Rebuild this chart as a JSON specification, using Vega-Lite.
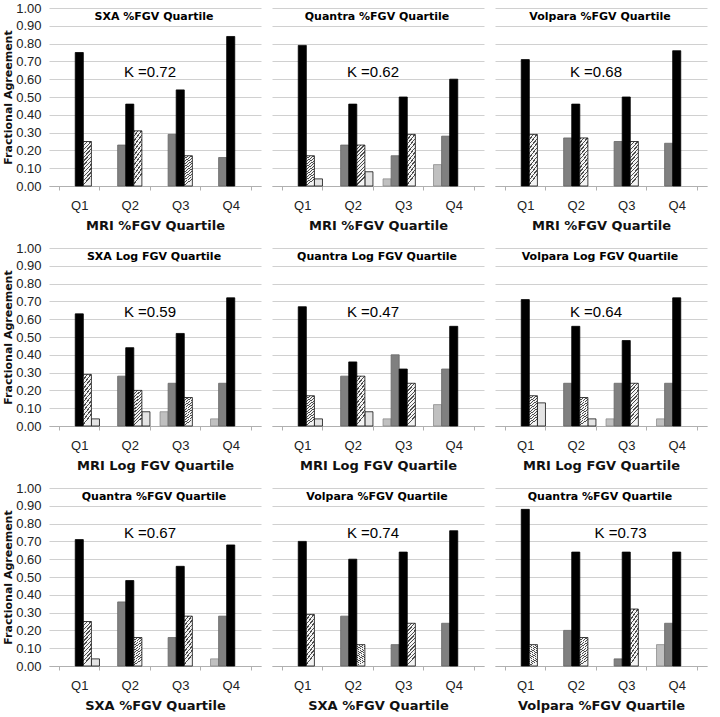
{
"$schema":"https://vega.github.io/schema/vega-lite/v6.json",
"padding":{"left":2,"top":2,"right":2,"bottom":2},
"background":"#ffffff",
"data":{"values":[
{"p":1,"t":"SXA %FGV Quartile","k":"K =0.72"},
{"p":1,"q":"Q1","s":"0","v":0.75},{"p":1,"q":"Q1","s":"+1","v":0.25},
{"p":1,"q":"Q2","s":"-1","v":0.23},{"p":1,"q":"Q2","s":"0","v":0.46},{"p":1,"q":"Q2","s":"+1","v":0.31},
{"p":1,"q":"Q3","s":"-1","v":0.29},{"p":1,"q":"Q3","s":"0","v":0.54},{"p":1,"q":"Q3","s":"+1","v":0.17},
{"p":1,"q":"Q4","s":"-1","v":0.16},{"p":1,"q":"Q4","s":"0","v":0.84},
{"p":2,"t":"Quantra %FGV Quartile","k":"K =0.62"},
{"p":2,"q":"Q1","s":"0","v":0.79},{"p":2,"q":"Q1","s":"+1","v":0.17},{"p":2,"q":"Q1","s":"+2","v":0.04},
{"p":2,"q":"Q2","s":"-1","v":0.23},{"p":2,"q":"Q2","s":"0","v":0.46},{"p":2,"q":"Q2","s":"+1","v":0.23},{"p":2,"q":"Q2","s":"+2","v":0.08},
{"p":2,"q":"Q3","s":"-2","v":0.04},{"p":2,"q":"Q3","s":"-1","v":0.17},{"p":2,"q":"Q3","s":"0","v":0.50},{"p":2,"q":"Q3","s":"+1","v":0.29},
{"p":2,"q":"Q4","s":"-2","v":0.12},{"p":2,"q":"Q4","s":"-1","v":0.28},{"p":2,"q":"Q4","s":"0","v":0.60},
{"p":3,"t":"Volpara %FGV Quartile","k":"K =0.68"},
{"p":3,"q":"Q1","s":"0","v":0.71},{"p":3,"q":"Q1","s":"+1","v":0.29},
{"p":3,"q":"Q2","s":"-1","v":0.27},{"p":3,"q":"Q2","s":"0","v":0.46},{"p":3,"q":"Q2","s":"+1","v":0.27},
{"p":3,"q":"Q3","s":"-1","v":0.25},{"p":3,"q":"Q3","s":"0","v":0.50},{"p":3,"q":"Q3","s":"+1","v":0.25},
{"p":3,"q":"Q4","s":"-1","v":0.24},{"p":3,"q":"Q4","s":"0","v":0.76},
{"p":4,"t":"SXA Log FGV Quartile","k":"K =0.59"},
{"p":4,"q":"Q1","s":"0","v":0.63},{"p":4,"q":"Q1","s":"+1","v":0.29},{"p":4,"q":"Q1","s":"+2","v":0.04},
{"p":4,"q":"Q2","s":"-1","v":0.28},{"p":4,"q":"Q2","s":"0","v":0.44},{"p":4,"q":"Q2","s":"+1","v":0.20},{"p":4,"q":"Q2","s":"+2","v":0.08},
{"p":4,"q":"Q3","s":"-2","v":0.08},{"p":4,"q":"Q3","s":"-1","v":0.24},{"p":4,"q":"Q3","s":"0","v":0.52},{"p":4,"q":"Q3","s":"+1","v":0.16},
{"p":4,"q":"Q4","s":"-2","v":0.04},{"p":4,"q":"Q4","s":"-1","v":0.24},{"p":4,"q":"Q4","s":"0","v":0.72},
{"p":5,"t":"Quantra Log FGV Quartile","k":"K =0.47"},
{"p":5,"q":"Q1","s":"0","v":0.67},{"p":5,"q":"Q1","s":"+1","v":0.17},{"p":5,"q":"Q1","s":"+2","v":0.04},
{"p":5,"q":"Q2","s":"-1","v":0.28},{"p":5,"q":"Q2","s":"0","v":0.36},{"p":5,"q":"Q2","s":"+1","v":0.28},{"p":5,"q":"Q2","s":"+2","v":0.08},
{"p":5,"q":"Q3","s":"-2","v":0.04},{"p":5,"q":"Q3","s":"-1","v":0.40},{"p":5,"q":"Q3","s":"0","v":0.32},{"p":5,"q":"Q3","s":"+1","v":0.24},
{"p":5,"q":"Q4","s":"-2","v":0.12},{"p":5,"q":"Q4","s":"-1","v":0.32},{"p":5,"q":"Q4","s":"0","v":0.56},
{"p":6,"t":"Volpara Log FGV Quartile","k":"K =0.64"},
{"p":6,"q":"Q1","s":"0","v":0.71},{"p":6,"q":"Q1","s":"+1","v":0.17},{"p":6,"q":"Q1","s":"+2","v":0.13},
{"p":6,"q":"Q2","s":"-1","v":0.24},{"p":6,"q":"Q2","s":"0","v":0.56},{"p":6,"q":"Q2","s":"+1","v":0.16},{"p":6,"q":"Q2","s":"+2","v":0.04},
{"p":6,"q":"Q3","s":"-2","v":0.04},{"p":6,"q":"Q3","s":"-1","v":0.24},{"p":6,"q":"Q3","s":"0","v":0.48},{"p":6,"q":"Q3","s":"+1","v":0.24},
{"p":6,"q":"Q4","s":"-2","v":0.04},{"p":6,"q":"Q4","s":"-1","v":0.24},{"p":6,"q":"Q4","s":"0","v":0.72},
{"p":7,"t":"Quantra %FGV Quartile","k":"K =0.67"},
{"p":7,"q":"Q1","s":"0","v":0.71},{"p":7,"q":"Q1","s":"+1","v":0.25},{"p":7,"q":"Q1","s":"+2","v":0.04},
{"p":7,"q":"Q2","s":"-1","v":0.36},{"p":7,"q":"Q2","s":"0","v":0.48},{"p":7,"q":"Q2","s":"+1","v":0.16},
{"p":7,"q":"Q3","s":"-1","v":0.16},{"p":7,"q":"Q3","s":"0","v":0.56},{"p":7,"q":"Q3","s":"+1","v":0.28},
{"p":7,"q":"Q4","s":"-2","v":0.04},{"p":7,"q":"Q4","s":"-1","v":0.28},{"p":7,"q":"Q4","s":"0","v":0.68},
{"p":8,"t":"Volpara %FGV Quartile","k":"K =0.74"},
{"p":8,"q":"Q1","s":"0","v":0.70},{"p":8,"q":"Q1","s":"+1","v":0.29},
{"p":8,"q":"Q2","s":"-1","v":0.28},{"p":8,"q":"Q2","s":"0","v":0.60},{"p":8,"q":"Q2","s":"+1","v":0.12},
{"p":8,"q":"Q3","s":"-1","v":0.12},{"p":8,"q":"Q3","s":"0","v":0.64},{"p":8,"q":"Q3","s":"+1","v":0.24},
{"p":8,"q":"Q4","s":"-1","v":0.24},{"p":8,"q":"Q4","s":"0","v":0.76},
{"p":9,"t":"Quantra %FGV Quartile","k":"K =0.73"},
{"p":9,"q":"Q1","s":"0","v":0.88},{"p":9,"q":"Q1","s":"+1","v":0.12},
{"p":9,"q":"Q2","s":"-1","v":0.20},{"p":9,"q":"Q2","s":"0","v":0.64},{"p":9,"q":"Q2","s":"+1","v":0.16},
{"p":9,"q":"Q3","s":"-1","v":0.04},{"p":9,"q":"Q3","s":"0","v":0.64},{"p":9,"q":"Q3","s":"+1","v":0.32},
{"p":9,"q":"Q4","s":"-2","v":0.12},{"p":9,"q":"Q4","s":"-1","v":0.24},{"p":9,"q":"Q4","s":"0","v":0.64}
]},
"vconcat":[
{"hconcat":[
{"width":212,"height":178,"transform":[{"filter":"datum.p==1"}],"layer":[
{"transform":[{"filter":"isValid(datum.v)&&datum.s!='+1'"}],"mark":{"type":"bar","strokeWidth":0.8},"encoding":{"x":{"field":"q","type":"nominal","scale":{"domain":["Q1","Q2","Q3","Q4"]},"axis":{"title":"MRI %FGV Quartile"}},"xOffset":{"field":"s","type":"nominal","scale":{"domain":["-2","-1","0","+1","+2"]}},"y":{"field":"v","type":"quantitative","scale":{"domain":[0,1],"nice":false},"axis":{"title":"Fractional Agreement","format":".2f"}},"fill":{"field":"s","type":"nominal","scale":{"domain":["-2","-1","0","+2"],"range":["#c0c0c0","#808080","#000000","#e4e4e4"]},"legend":null},"stroke":{"field":"s","type":"nominal","scale":{"domain":["-2","-1","0","+2"],"range":["#8c8c8c","#666666","#000000","#111111"]},"legend":null}}},
{"transform":[{"filter":"datum.s=='+1'"}],"mark":{"type":"bar","stroke":"#111111","strokeWidth":0.8,"fill":{"gradient":"linear","x1":0,"y1":0,"x2":0.2,"y2":1,"stops":[{"offset":0,"color":"#4d4d4d"},{"offset":0.03,"color":"#4d4d4d"},{"offset":0.03,"color":"#f4f4f4"},{"offset":0.0833,"color":"#f4f4f4"},{"offset":0.0833,"color":"#4d4d4d"},{"offset":0.1133,"color":"#4d4d4d"},{"offset":0.1133,"color":"#f4f4f4"},{"offset":0.1667,"color":"#f4f4f4"},{"offset":0.1667,"color":"#4d4d4d"},{"offset":0.1967,"color":"#4d4d4d"},{"offset":0.1967,"color":"#f4f4f4"},{"offset":0.25,"color":"#f4f4f4"},{"offset":0.25,"color":"#4d4d4d"},{"offset":0.28,"color":"#4d4d4d"},{"offset":0.28,"color":"#f4f4f4"},{"offset":0.3333,"color":"#f4f4f4"},{"offset":0.3333,"color":"#4d4d4d"},{"offset":0.3633,"color":"#4d4d4d"},{"offset":0.3633,"color":"#f4f4f4"},{"offset":0.4167,"color":"#f4f4f4"},{"offset":0.4167,"color":"#4d4d4d"},{"offset":0.4467,"color":"#4d4d4d"},{"offset":0.4467,"color":"#f4f4f4"},{"offset":0.5,"color":"#f4f4f4"},{"offset":0.5,"color":"#4d4d4d"},{"offset":0.53,"color":"#4d4d4d"},{"offset":0.53,"color":"#f4f4f4"},{"offset":0.5833,"color":"#f4f4f4"},{"offset":0.5833,"color":"#4d4d4d"},{"offset":0.6133,"color":"#4d4d4d"},{"offset":0.6133,"color":"#f4f4f4"},{"offset":0.6667,"color":"#f4f4f4"},{"offset":0.6667,"color":"#4d4d4d"},{"offset":0.6967,"color":"#4d4d4d"},{"offset":0.6967,"color":"#f4f4f4"},{"offset":0.75,"color":"#f4f4f4"},{"offset":0.75,"color":"#4d4d4d"},{"offset":0.78,"color":"#4d4d4d"},{"offset":0.78,"color":"#f4f4f4"},{"offset":0.8333,"color":"#f4f4f4"},{"offset":0.8333,"color":"#4d4d4d"},{"offset":0.8633,"color":"#4d4d4d"},{"offset":0.8633,"color":"#f4f4f4"},{"offset":0.9167,"color":"#f4f4f4"},{"offset":0.9167,"color":"#4d4d4d"},{"offset":0.9467,"color":"#4d4d4d"},{"offset":0.9467,"color":"#f4f4f4"},{"offset":1,"color":"#f4f4f4"}]}},"encoding":{"x":{"field":"q","type":"nominal"},"xOffset":{"field":"s","type":"nominal"},"y":{"field":"v","type":"quantitative"}}},
{"transform":[{"filter":"isValid(datum.t)"}],"mark":{"type":"text","style":"ptitle"},"encoding":{"x":{"datum":"Q2","bandPosition":1.1},"y":{"datum":0.95},"text":{"field":"t"}}},
{"transform":[{"filter":"isValid(datum.k)"}],"mark":{"type":"text","style":"kappa"},"encoding":{"x":{"datum":"Q2","bandPosition":1},"y":{"datum":0.64},"text":{"field":"k"}}}
]},
{"width":212,"height":178,"transform":[{"filter":"datum.p==2"}],"layer":[
{"transform":[{"filter":"isValid(datum.v)&&datum.s!='+1'"}],"mark":{"type":"bar","strokeWidth":0.8},"encoding":{"x":{"field":"q","type":"nominal","scale":{"domain":["Q1","Q2","Q3","Q4"]},"axis":{"title":"MRI %FGV Quartile"}},"xOffset":{"field":"s","type":"nominal","scale":{"domain":["-2","-1","0","+1","+2"]}},"y":{"field":"v","type":"quantitative","scale":{"domain":[0,1],"nice":false},"axis":{"title":null,"labels":false}},"fill":{"field":"s","type":"nominal","scale":{"domain":["-2","-1","0","+2"],"range":["#c0c0c0","#808080","#000000","#e4e4e4"]},"legend":null},"stroke":{"field":"s","type":"nominal","scale":{"domain":["-2","-1","0","+2"],"range":["#8c8c8c","#666666","#000000","#111111"]},"legend":null}}},
{"transform":[{"filter":"datum.s=='+1'"}],"mark":{"type":"bar","stroke":"#111111","strokeWidth":0.8,"fill":{"gradient":"linear","x1":0,"y1":0,"x2":0.2,"y2":1,"stops":[{"offset":0,"color":"#4d4d4d"},{"offset":0.03,"color":"#4d4d4d"},{"offset":0.03,"color":"#f4f4f4"},{"offset":0.0833,"color":"#f4f4f4"},{"offset":0.0833,"color":"#4d4d4d"},{"offset":0.1133,"color":"#4d4d4d"},{"offset":0.1133,"color":"#f4f4f4"},{"offset":0.1667,"color":"#f4f4f4"},{"offset":0.1667,"color":"#4d4d4d"},{"offset":0.1967,"color":"#4d4d4d"},{"offset":0.1967,"color":"#f4f4f4"},{"offset":0.25,"color":"#f4f4f4"},{"offset":0.25,"color":"#4d4d4d"},{"offset":0.28,"color":"#4d4d4d"},{"offset":0.28,"color":"#f4f4f4"},{"offset":0.3333,"color":"#f4f4f4"},{"offset":0.3333,"color":"#4d4d4d"},{"offset":0.3633,"color":"#4d4d4d"},{"offset":0.3633,"color":"#f4f4f4"},{"offset":0.4167,"color":"#f4f4f4"},{"offset":0.4167,"color":"#4d4d4d"},{"offset":0.4467,"color":"#4d4d4d"},{"offset":0.4467,"color":"#f4f4f4"},{"offset":0.5,"color":"#f4f4f4"},{"offset":0.5,"color":"#4d4d4d"},{"offset":0.53,"color":"#4d4d4d"},{"offset":0.53,"color":"#f4f4f4"},{"offset":0.5833,"color":"#f4f4f4"},{"offset":0.5833,"color":"#4d4d4d"},{"offset":0.6133,"color":"#4d4d4d"},{"offset":0.6133,"color":"#f4f4f4"},{"offset":0.6667,"color":"#f4f4f4"},{"offset":0.6667,"color":"#4d4d4d"},{"offset":0.6967,"color":"#4d4d4d"},{"offset":0.6967,"color":"#f4f4f4"},{"offset":0.75,"color":"#f4f4f4"},{"offset":0.75,"color":"#4d4d4d"},{"offset":0.78,"color":"#4d4d4d"},{"offset":0.78,"color":"#f4f4f4"},{"offset":0.8333,"color":"#f4f4f4"},{"offset":0.8333,"color":"#4d4d4d"},{"offset":0.8633,"color":"#4d4d4d"},{"offset":0.8633,"color":"#f4f4f4"},{"offset":0.9167,"color":"#f4f4f4"},{"offset":0.9167,"color":"#4d4d4d"},{"offset":0.9467,"color":"#4d4d4d"},{"offset":0.9467,"color":"#f4f4f4"},{"offset":1,"color":"#f4f4f4"}]}},"encoding":{"x":{"field":"q","type":"nominal"},"xOffset":{"field":"s","type":"nominal"},"y":{"field":"v","type":"quantitative"}}},
{"transform":[{"filter":"isValid(datum.t)"}],"mark":{"type":"text","style":"ptitle"},"encoding":{"x":{"datum":"Q2","bandPosition":1.1},"y":{"datum":0.95},"text":{"field":"t"}}},
{"transform":[{"filter":"isValid(datum.k)"}],"mark":{"type":"text","style":"kappa"},"encoding":{"x":{"datum":"Q2","bandPosition":1},"y":{"datum":0.64},"text":{"field":"k"}}}
]},
{"width":212,"height":178,"transform":[{"filter":"datum.p==3"}],"layer":[
{"transform":[{"filter":"isValid(datum.v)&&datum.s!='+1'"}],"mark":{"type":"bar","strokeWidth":0.8},"encoding":{"x":{"field":"q","type":"nominal","scale":{"domain":["Q1","Q2","Q3","Q4"]},"axis":{"title":"MRI %FGV Quartile"}},"xOffset":{"field":"s","type":"nominal","scale":{"domain":["-2","-1","0","+1","+2"]}},"y":{"field":"v","type":"quantitative","scale":{"domain":[0,1],"nice":false},"axis":{"title":null,"labels":false}},"fill":{"field":"s","type":"nominal","scale":{"domain":["-2","-1","0","+2"],"range":["#c0c0c0","#808080","#000000","#e4e4e4"]},"legend":null},"stroke":{"field":"s","type":"nominal","scale":{"domain":["-2","-1","0","+2"],"range":["#8c8c8c","#666666","#000000","#111111"]},"legend":null}}},
{"transform":[{"filter":"datum.s=='+1'"}],"mark":{"type":"bar","stroke":"#111111","strokeWidth":0.8,"fill":{"gradient":"linear","x1":0,"y1":0,"x2":0.2,"y2":1,"stops":[{"offset":0,"color":"#4d4d4d"},{"offset":0.03,"color":"#4d4d4d"},{"offset":0.03,"color":"#f4f4f4"},{"offset":0.0833,"color":"#f4f4f4"},{"offset":0.0833,"color":"#4d4d4d"},{"offset":0.1133,"color":"#4d4d4d"},{"offset":0.1133,"color":"#f4f4f4"},{"offset":0.1667,"color":"#f4f4f4"},{"offset":0.1667,"color":"#4d4d4d"},{"offset":0.1967,"color":"#4d4d4d"},{"offset":0.1967,"color":"#f4f4f4"},{"offset":0.25,"color":"#f4f4f4"},{"offset":0.25,"color":"#4d4d4d"},{"offset":0.28,"color":"#4d4d4d"},{"offset":0.28,"color":"#f4f4f4"},{"offset":0.3333,"color":"#f4f4f4"},{"offset":0.3333,"color":"#4d4d4d"},{"offset":0.3633,"color":"#4d4d4d"},{"offset":0.3633,"color":"#f4f4f4"},{"offset":0.4167,"color":"#f4f4f4"},{"offset":0.4167,"color":"#4d4d4d"},{"offset":0.4467,"color":"#4d4d4d"},{"offset":0.4467,"color":"#f4f4f4"},{"offset":0.5,"color":"#f4f4f4"},{"offset":0.5,"color":"#4d4d4d"},{"offset":0.53,"color":"#4d4d4d"},{"offset":0.53,"color":"#f4f4f4"},{"offset":0.5833,"color":"#f4f4f4"},{"offset":0.5833,"color":"#4d4d4d"},{"offset":0.6133,"color":"#4d4d4d"},{"offset":0.6133,"color":"#f4f4f4"},{"offset":0.6667,"color":"#f4f4f4"},{"offset":0.6667,"color":"#4d4d4d"},{"offset":0.6967,"color":"#4d4d4d"},{"offset":0.6967,"color":"#f4f4f4"},{"offset":0.75,"color":"#f4f4f4"},{"offset":0.75,"color":"#4d4d4d"},{"offset":0.78,"color":"#4d4d4d"},{"offset":0.78,"color":"#f4f4f4"},{"offset":0.8333,"color":"#f4f4f4"},{"offset":0.8333,"color":"#4d4d4d"},{"offset":0.8633,"color":"#4d4d4d"},{"offset":0.8633,"color":"#f4f4f4"},{"offset":0.9167,"color":"#f4f4f4"},{"offset":0.9167,"color":"#4d4d4d"},{"offset":0.9467,"color":"#4d4d4d"},{"offset":0.9467,"color":"#f4f4f4"},{"offset":1,"color":"#f4f4f4"}]}},"encoding":{"x":{"field":"q","type":"nominal"},"xOffset":{"field":"s","type":"nominal"},"y":{"field":"v","type":"quantitative"}}},
{"transform":[{"filter":"isValid(datum.t)"}],"mark":{"type":"text","style":"ptitle"},"encoding":{"x":{"datum":"Q2","bandPosition":1.1},"y":{"datum":0.95},"text":{"field":"t"}}},
{"transform":[{"filter":"isValid(datum.k)"}],"mark":{"type":"text","style":"kappa"},"encoding":{"x":{"datum":"Q2","bandPosition":1},"y":{"datum":0.64},"text":{"field":"k"}}}
]}
],"spacing":11},
{"hconcat":[
{"width":212,"height":178,"transform":[{"filter":"datum.p==4"}],"layer":[
{"transform":[{"filter":"isValid(datum.v)&&datum.s!='+1'"}],"mark":{"type":"bar","strokeWidth":0.8},"encoding":{"x":{"field":"q","type":"nominal","scale":{"domain":["Q1","Q2","Q3","Q4"]},"axis":{"title":"MRI Log FGV Quartile"}},"xOffset":{"field":"s","type":"nominal","scale":{"domain":["-2","-1","0","+1","+2"]}},"y":{"field":"v","type":"quantitative","scale":{"domain":[0,1],"nice":false},"axis":{"title":"Fractional Agreement","format":".2f"}},"fill":{"field":"s","type":"nominal","scale":{"domain":["-2","-1","0","+2"],"range":["#c0c0c0","#808080","#000000","#e4e4e4"]},"legend":null},"stroke":{"field":"s","type":"nominal","scale":{"domain":["-2","-1","0","+2"],"range":["#8c8c8c","#666666","#000000","#111111"]},"legend":null}}},
{"transform":[{"filter":"datum.s=='+1'"}],"mark":{"type":"bar","stroke":"#111111","strokeWidth":0.8,"fill":{"gradient":"linear","x1":0,"y1":0,"x2":0.2,"y2":1,"stops":[{"offset":0,"color":"#4d4d4d"},{"offset":0.03,"color":"#4d4d4d"},{"offset":0.03,"color":"#f4f4f4"},{"offset":0.0833,"color":"#f4f4f4"},{"offset":0.0833,"color":"#4d4d4d"},{"offset":0.1133,"color":"#4d4d4d"},{"offset":0.1133,"color":"#f4f4f4"},{"offset":0.1667,"color":"#f4f4f4"},{"offset":0.1667,"color":"#4d4d4d"},{"offset":0.1967,"color":"#4d4d4d"},{"offset":0.1967,"color":"#f4f4f4"},{"offset":0.25,"color":"#f4f4f4"},{"offset":0.25,"color":"#4d4d4d"},{"offset":0.28,"color":"#4d4d4d"},{"offset":0.28,"color":"#f4f4f4"},{"offset":0.3333,"color":"#f4f4f4"},{"offset":0.3333,"color":"#4d4d4d"},{"offset":0.3633,"color":"#4d4d4d"},{"offset":0.3633,"color":"#f4f4f4"},{"offset":0.4167,"color":"#f4f4f4"},{"offset":0.4167,"color":"#4d4d4d"},{"offset":0.4467,"color":"#4d4d4d"},{"offset":0.4467,"color":"#f4f4f4"},{"offset":0.5,"color":"#f4f4f4"},{"offset":0.5,"color":"#4d4d4d"},{"offset":0.53,"color":"#4d4d4d"},{"offset":0.53,"color":"#f4f4f4"},{"offset":0.5833,"color":"#f4f4f4"},{"offset":0.5833,"color":"#4d4d4d"},{"offset":0.6133,"color":"#4d4d4d"},{"offset":0.6133,"color":"#f4f4f4"},{"offset":0.6667,"color":"#f4f4f4"},{"offset":0.6667,"color":"#4d4d4d"},{"offset":0.6967,"color":"#4d4d4d"},{"offset":0.6967,"color":"#f4f4f4"},{"offset":0.75,"color":"#f4f4f4"},{"offset":0.75,"color":"#4d4d4d"},{"offset":0.78,"color":"#4d4d4d"},{"offset":0.78,"color":"#f4f4f4"},{"offset":0.8333,"color":"#f4f4f4"},{"offset":0.8333,"color":"#4d4d4d"},{"offset":0.8633,"color":"#4d4d4d"},{"offset":0.8633,"color":"#f4f4f4"},{"offset":0.9167,"color":"#f4f4f4"},{"offset":0.9167,"color":"#4d4d4d"},{"offset":0.9467,"color":"#4d4d4d"},{"offset":0.9467,"color":"#f4f4f4"},{"offset":1,"color":"#f4f4f4"}]}},"encoding":{"x":{"field":"q","type":"nominal"},"xOffset":{"field":"s","type":"nominal"},"y":{"field":"v","type":"quantitative"}}},
{"transform":[{"filter":"isValid(datum.t)"}],"mark":{"type":"text","style":"ptitle"},"encoding":{"x":{"datum":"Q2","bandPosition":1.1},"y":{"datum":0.95},"text":{"field":"t"}}},
{"transform":[{"filter":"isValid(datum.k)"}],"mark":{"type":"text","style":"kappa"},"encoding":{"x":{"datum":"Q2","bandPosition":1},"y":{"datum":0.64},"text":{"field":"k"}}}
]},
{"width":212,"height":178,"transform":[{"filter":"datum.p==5"}],"layer":[
{"transform":[{"filter":"isValid(datum.v)&&datum.s!='+1'"}],"mark":{"type":"bar","strokeWidth":0.8},"encoding":{"x":{"field":"q","type":"nominal","scale":{"domain":["Q1","Q2","Q3","Q4"]},"axis":{"title":"MRI Log FGV Quartile"}},"xOffset":{"field":"s","type":"nominal","scale":{"domain":["-2","-1","0","+1","+2"]}},"y":{"field":"v","type":"quantitative","scale":{"domain":[0,1],"nice":false},"axis":{"title":null,"labels":false}},"fill":{"field":"s","type":"nominal","scale":{"domain":["-2","-1","0","+2"],"range":["#c0c0c0","#808080","#000000","#e4e4e4"]},"legend":null},"stroke":{"field":"s","type":"nominal","scale":{"domain":["-2","-1","0","+2"],"range":["#8c8c8c","#666666","#000000","#111111"]},"legend":null}}},
{"transform":[{"filter":"datum.s=='+1'"}],"mark":{"type":"bar","stroke":"#111111","strokeWidth":0.8,"fill":{"gradient":"linear","x1":0,"y1":0,"x2":0.2,"y2":1,"stops":[{"offset":0,"color":"#4d4d4d"},{"offset":0.03,"color":"#4d4d4d"},{"offset":0.03,"color":"#f4f4f4"},{"offset":0.0833,"color":"#f4f4f4"},{"offset":0.0833,"color":"#4d4d4d"},{"offset":0.1133,"color":"#4d4d4d"},{"offset":0.1133,"color":"#f4f4f4"},{"offset":0.1667,"color":"#f4f4f4"},{"offset":0.1667,"color":"#4d4d4d"},{"offset":0.1967,"color":"#4d4d4d"},{"offset":0.1967,"color":"#f4f4f4"},{"offset":0.25,"color":"#f4f4f4"},{"offset":0.25,"color":"#4d4d4d"},{"offset":0.28,"color":"#4d4d4d"},{"offset":0.28,"color":"#f4f4f4"},{"offset":0.3333,"color":"#f4f4f4"},{"offset":0.3333,"color":"#4d4d4d"},{"offset":0.3633,"color":"#4d4d4d"},{"offset":0.3633,"color":"#f4f4f4"},{"offset":0.4167,"color":"#f4f4f4"},{"offset":0.4167,"color":"#4d4d4d"},{"offset":0.4467,"color":"#4d4d4d"},{"offset":0.4467,"color":"#f4f4f4"},{"offset":0.5,"color":"#f4f4f4"},{"offset":0.5,"color":"#4d4d4d"},{"offset":0.53,"color":"#4d4d4d"},{"offset":0.53,"color":"#f4f4f4"},{"offset":0.5833,"color":"#f4f4f4"},{"offset":0.5833,"color":"#4d4d4d"},{"offset":0.6133,"color":"#4d4d4d"},{"offset":0.6133,"color":"#f4f4f4"},{"offset":0.6667,"color":"#f4f4f4"},{"offset":0.6667,"color":"#4d4d4d"},{"offset":0.6967,"color":"#4d4d4d"},{"offset":0.6967,"color":"#f4f4f4"},{"offset":0.75,"color":"#f4f4f4"},{"offset":0.75,"color":"#4d4d4d"},{"offset":0.78,"color":"#4d4d4d"},{"offset":0.78,"color":"#f4f4f4"},{"offset":0.8333,"color":"#f4f4f4"},{"offset":0.8333,"color":"#4d4d4d"},{"offset":0.8633,"color":"#4d4d4d"},{"offset":0.8633,"color":"#f4f4f4"},{"offset":0.9167,"color":"#f4f4f4"},{"offset":0.9167,"color":"#4d4d4d"},{"offset":0.9467,"color":"#4d4d4d"},{"offset":0.9467,"color":"#f4f4f4"},{"offset":1,"color":"#f4f4f4"}]}},"encoding":{"x":{"field":"q","type":"nominal"},"xOffset":{"field":"s","type":"nominal"},"y":{"field":"v","type":"quantitative"}}},
{"transform":[{"filter":"isValid(datum.t)"}],"mark":{"type":"text","style":"ptitle"},"encoding":{"x":{"datum":"Q2","bandPosition":1.1},"y":{"datum":0.95},"text":{"field":"t"}}},
{"transform":[{"filter":"isValid(datum.k)"}],"mark":{"type":"text","style":"kappa"},"encoding":{"x":{"datum":"Q2","bandPosition":1},"y":{"datum":0.64},"text":{"field":"k"}}}
]},
{"width":212,"height":178,"transform":[{"filter":"datum.p==6"}],"layer":[
{"transform":[{"filter":"isValid(datum.v)&&datum.s!='+1'"}],"mark":{"type":"bar","strokeWidth":0.8},"encoding":{"x":{"field":"q","type":"nominal","scale":{"domain":["Q1","Q2","Q3","Q4"]},"axis":{"title":"MRI Log FGV Quartile"}},"xOffset":{"field":"s","type":"nominal","scale":{"domain":["-2","-1","0","+1","+2"]}},"y":{"field":"v","type":"quantitative","scale":{"domain":[0,1],"nice":false},"axis":{"title":null,"labels":false}},"fill":{"field":"s","type":"nominal","scale":{"domain":["-2","-1","0","+2"],"range":["#c0c0c0","#808080","#000000","#e4e4e4"]},"legend":null},"stroke":{"field":"s","type":"nominal","scale":{"domain":["-2","-1","0","+2"],"range":["#8c8c8c","#666666","#000000","#111111"]},"legend":null}}},
{"transform":[{"filter":"datum.s=='+1'"}],"mark":{"type":"bar","stroke":"#111111","strokeWidth":0.8,"fill":{"gradient":"linear","x1":0,"y1":0,"x2":0.2,"y2":1,"stops":[{"offset":0,"color":"#4d4d4d"},{"offset":0.03,"color":"#4d4d4d"},{"offset":0.03,"color":"#f4f4f4"},{"offset":0.0833,"color":"#f4f4f4"},{"offset":0.0833,"color":"#4d4d4d"},{"offset":0.1133,"color":"#4d4d4d"},{"offset":0.1133,"color":"#f4f4f4"},{"offset":0.1667,"color":"#f4f4f4"},{"offset":0.1667,"color":"#4d4d4d"},{"offset":0.1967,"color":"#4d4d4d"},{"offset":0.1967,"color":"#f4f4f4"},{"offset":0.25,"color":"#f4f4f4"},{"offset":0.25,"color":"#4d4d4d"},{"offset":0.28,"color":"#4d4d4d"},{"offset":0.28,"color":"#f4f4f4"},{"offset":0.3333,"color":"#f4f4f4"},{"offset":0.3333,"color":"#4d4d4d"},{"offset":0.3633,"color":"#4d4d4d"},{"offset":0.3633,"color":"#f4f4f4"},{"offset":0.4167,"color":"#f4f4f4"},{"offset":0.4167,"color":"#4d4d4d"},{"offset":0.4467,"color":"#4d4d4d"},{"offset":0.4467,"color":"#f4f4f4"},{"offset":0.5,"color":"#f4f4f4"},{"offset":0.5,"color":"#4d4d4d"},{"offset":0.53,"color":"#4d4d4d"},{"offset":0.53,"color":"#f4f4f4"},{"offset":0.5833,"color":"#f4f4f4"},{"offset":0.5833,"color":"#4d4d4d"},{"offset":0.6133,"color":"#4d4d4d"},{"offset":0.6133,"color":"#f4f4f4"},{"offset":0.6667,"color":"#f4f4f4"},{"offset":0.6667,"color":"#4d4d4d"},{"offset":0.6967,"color":"#4d4d4d"},{"offset":0.6967,"color":"#f4f4f4"},{"offset":0.75,"color":"#f4f4f4"},{"offset":0.75,"color":"#4d4d4d"},{"offset":0.78,"color":"#4d4d4d"},{"offset":0.78,"color":"#f4f4f4"},{"offset":0.8333,"color":"#f4f4f4"},{"offset":0.8333,"color":"#4d4d4d"},{"offset":0.8633,"color":"#4d4d4d"},{"offset":0.8633,"color":"#f4f4f4"},{"offset":0.9167,"color":"#f4f4f4"},{"offset":0.9167,"color":"#4d4d4d"},{"offset":0.9467,"color":"#4d4d4d"},{"offset":0.9467,"color":"#f4f4f4"},{"offset":1,"color":"#f4f4f4"}]}},"encoding":{"x":{"field":"q","type":"nominal"},"xOffset":{"field":"s","type":"nominal"},"y":{"field":"v","type":"quantitative"}}},
{"transform":[{"filter":"isValid(datum.t)"}],"mark":{"type":"text","style":"ptitle"},"encoding":{"x":{"datum":"Q2","bandPosition":1.1},"y":{"datum":0.95},"text":{"field":"t"}}},
{"transform":[{"filter":"isValid(datum.k)"}],"mark":{"type":"text","style":"kappa"},"encoding":{"x":{"datum":"Q2","bandPosition":1},"y":{"datum":0.64},"text":{"field":"k"}}}
]}
],"spacing":11},
{"hconcat":[
{"width":212,"height":178,"transform":[{"filter":"datum.p==7"}],"layer":[
{"transform":[{"filter":"isValid(datum.v)&&datum.s!='+1'"}],"mark":{"type":"bar","strokeWidth":0.8},"encoding":{"x":{"field":"q","type":"nominal","scale":{"domain":["Q1","Q2","Q3","Q4"]},"axis":{"title":"SXA %FGV Quartile"}},"xOffset":{"field":"s","type":"nominal","scale":{"domain":["-2","-1","0","+1","+2"]}},"y":{"field":"v","type":"quantitative","scale":{"domain":[0,1],"nice":false},"axis":{"title":"Fractional Agreement","format":".2f"}},"fill":{"field":"s","type":"nominal","scale":{"domain":["-2","-1","0","+2"],"range":["#c0c0c0","#808080","#000000","#e4e4e4"]},"legend":null},"stroke":{"field":"s","type":"nominal","scale":{"domain":["-2","-1","0","+2"],"range":["#8c8c8c","#666666","#000000","#111111"]},"legend":null}}},
{"transform":[{"filter":"datum.s=='+1'"}],"mark":{"type":"bar","stroke":"#111111","strokeWidth":0.8,"fill":{"gradient":"linear","x1":0,"y1":0,"x2":0.2,"y2":1,"stops":[{"offset":0,"color":"#4d4d4d"},{"offset":0.03,"color":"#4d4d4d"},{"offset":0.03,"color":"#f4f4f4"},{"offset":0.0833,"color":"#f4f4f4"},{"offset":0.0833,"color":"#4d4d4d"},{"offset":0.1133,"color":"#4d4d4d"},{"offset":0.1133,"color":"#f4f4f4"},{"offset":0.1667,"color":"#f4f4f4"},{"offset":0.1667,"color":"#4d4d4d"},{"offset":0.1967,"color":"#4d4d4d"},{"offset":0.1967,"color":"#f4f4f4"},{"offset":0.25,"color":"#f4f4f4"},{"offset":0.25,"color":"#4d4d4d"},{"offset":0.28,"color":"#4d4d4d"},{"offset":0.28,"color":"#f4f4f4"},{"offset":0.3333,"color":"#f4f4f4"},{"offset":0.3333,"color":"#4d4d4d"},{"offset":0.3633,"color":"#4d4d4d"},{"offset":0.3633,"color":"#f4f4f4"},{"offset":0.4167,"color":"#f4f4f4"},{"offset":0.4167,"color":"#4d4d4d"},{"offset":0.4467,"color":"#4d4d4d"},{"offset":0.4467,"color":"#f4f4f4"},{"offset":0.5,"color":"#f4f4f4"},{"offset":0.5,"color":"#4d4d4d"},{"offset":0.53,"color":"#4d4d4d"},{"offset":0.53,"color":"#f4f4f4"},{"offset":0.5833,"color":"#f4f4f4"},{"offset":0.5833,"color":"#4d4d4d"},{"offset":0.6133,"color":"#4d4d4d"},{"offset":0.6133,"color":"#f4f4f4"},{"offset":0.6667,"color":"#f4f4f4"},{"offset":0.6667,"color":"#4d4d4d"},{"offset":0.6967,"color":"#4d4d4d"},{"offset":0.6967,"color":"#f4f4f4"},{"offset":0.75,"color":"#f4f4f4"},{"offset":0.75,"color":"#4d4d4d"},{"offset":0.78,"color":"#4d4d4d"},{"offset":0.78,"color":"#f4f4f4"},{"offset":0.8333,"color":"#f4f4f4"},{"offset":0.8333,"color":"#4d4d4d"},{"offset":0.8633,"color":"#4d4d4d"},{"offset":0.8633,"color":"#f4f4f4"},{"offset":0.9167,"color":"#f4f4f4"},{"offset":0.9167,"color":"#4d4d4d"},{"offset":0.9467,"color":"#4d4d4d"},{"offset":0.9467,"color":"#f4f4f4"},{"offset":1,"color":"#f4f4f4"}]}},"encoding":{"x":{"field":"q","type":"nominal"},"xOffset":{"field":"s","type":"nominal"},"y":{"field":"v","type":"quantitative"}}},
{"transform":[{"filter":"isValid(datum.t)"}],"mark":{"type":"text","style":"ptitle"},"encoding":{"x":{"datum":"Q2","bandPosition":1.1},"y":{"datum":0.95},"text":{"field":"t"}}},
{"transform":[{"filter":"isValid(datum.k)"}],"mark":{"type":"text","style":"kappa"},"encoding":{"x":{"datum":"Q2","bandPosition":1},"y":{"datum":0.75},"text":{"field":"k"}}}
]},
{"width":212,"height":178,"transform":[{"filter":"datum.p==8"}],"layer":[
{"transform":[{"filter":"isValid(datum.v)&&datum.s!='+1'"}],"mark":{"type":"bar","strokeWidth":0.8},"encoding":{"x":{"field":"q","type":"nominal","scale":{"domain":["Q1","Q2","Q3","Q4"]},"axis":{"title":"SXA %FGV Quartile"}},"xOffset":{"field":"s","type":"nominal","scale":{"domain":["-2","-1","0","+1","+2"]}},"y":{"field":"v","type":"quantitative","scale":{"domain":[0,1],"nice":false},"axis":{"title":null,"labels":false}},"fill":{"field":"s","type":"nominal","scale":{"domain":["-2","-1","0","+2"],"range":["#c0c0c0","#808080","#000000","#e4e4e4"]},"legend":null},"stroke":{"field":"s","type":"nominal","scale":{"domain":["-2","-1","0","+2"],"range":["#8c8c8c","#666666","#000000","#111111"]},"legend":null}}},
{"transform":[{"filter":"datum.s=='+1'"}],"mark":{"type":"bar","stroke":"#111111","strokeWidth":0.8,"fill":{"gradient":"linear","x1":0,"y1":0,"x2":0.2,"y2":1,"stops":[{"offset":0,"color":"#4d4d4d"},{"offset":0.03,"color":"#4d4d4d"},{"offset":0.03,"color":"#f4f4f4"},{"offset":0.0833,"color":"#f4f4f4"},{"offset":0.0833,"color":"#4d4d4d"},{"offset":0.1133,"color":"#4d4d4d"},{"offset":0.1133,"color":"#f4f4f4"},{"offset":0.1667,"color":"#f4f4f4"},{"offset":0.1667,"color":"#4d4d4d"},{"offset":0.1967,"color":"#4d4d4d"},{"offset":0.1967,"color":"#f4f4f4"},{"offset":0.25,"color":"#f4f4f4"},{"offset":0.25,"color":"#4d4d4d"},{"offset":0.28,"color":"#4d4d4d"},{"offset":0.28,"color":"#f4f4f4"},{"offset":0.3333,"color":"#f4f4f4"},{"offset":0.3333,"color":"#4d4d4d"},{"offset":0.3633,"color":"#4d4d4d"},{"offset":0.3633,"color":"#f4f4f4"},{"offset":0.4167,"color":"#f4f4f4"},{"offset":0.4167,"color":"#4d4d4d"},{"offset":0.4467,"color":"#4d4d4d"},{"offset":0.4467,"color":"#f4f4f4"},{"offset":0.5,"color":"#f4f4f4"},{"offset":0.5,"color":"#4d4d4d"},{"offset":0.53,"color":"#4d4d4d"},{"offset":0.53,"color":"#f4f4f4"},{"offset":0.5833,"color":"#f4f4f4"},{"offset":0.5833,"color":"#4d4d4d"},{"offset":0.6133,"color":"#4d4d4d"},{"offset":0.6133,"color":"#f4f4f4"},{"offset":0.6667,"color":"#f4f4f4"},{"offset":0.6667,"color":"#4d4d4d"},{"offset":0.6967,"color":"#4d4d4d"},{"offset":0.6967,"color":"#f4f4f4"},{"offset":0.75,"color":"#f4f4f4"},{"offset":0.75,"color":"#4d4d4d"},{"offset":0.78,"color":"#4d4d4d"},{"offset":0.78,"color":"#f4f4f4"},{"offset":0.8333,"color":"#f4f4f4"},{"offset":0.8333,"color":"#4d4d4d"},{"offset":0.8633,"color":"#4d4d4d"},{"offset":0.8633,"color":"#f4f4f4"},{"offset":0.9167,"color":"#f4f4f4"},{"offset":0.9167,"color":"#4d4d4d"},{"offset":0.9467,"color":"#4d4d4d"},{"offset":0.9467,"color":"#f4f4f4"},{"offset":1,"color":"#f4f4f4"}]}},"encoding":{"x":{"field":"q","type":"nominal"},"xOffset":{"field":"s","type":"nominal"},"y":{"field":"v","type":"quantitative"}}},
{"transform":[{"filter":"isValid(datum.t)"}],"mark":{"type":"text","style":"ptitle"},"encoding":{"x":{"datum":"Q2","bandPosition":1.1},"y":{"datum":0.95},"text":{"field":"t"}}},
{"transform":[{"filter":"isValid(datum.k)"}],"mark":{"type":"text","style":"kappa"},"encoding":{"x":{"datum":"Q2","bandPosition":1},"y":{"datum":0.75},"text":{"field":"k"}}}
]},
{"width":212,"height":178,"transform":[{"filter":"datum.p==9"}],"layer":[
{"transform":[{"filter":"isValid(datum.v)&&datum.s!='+1'"}],"mark":{"type":"bar","strokeWidth":0.8},"encoding":{"x":{"field":"q","type":"nominal","scale":{"domain":["Q1","Q2","Q3","Q4"]},"axis":{"title":"Volpara %FGV Quartile"}},"xOffset":{"field":"s","type":"nominal","scale":{"domain":["-2","-1","0","+1","+2"]}},"y":{"field":"v","type":"quantitative","scale":{"domain":[0,1],"nice":false},"axis":{"title":null,"labels":false}},"fill":{"field":"s","type":"nominal","scale":{"domain":["-2","-1","0","+2"],"range":["#c0c0c0","#808080","#000000","#e4e4e4"]},"legend":null},"stroke":{"field":"s","type":"nominal","scale":{"domain":["-2","-1","0","+2"],"range":["#8c8c8c","#666666","#000000","#111111"]},"legend":null}}},
{"transform":[{"filter":"datum.s=='+1'"}],"mark":{"type":"bar","stroke":"#111111","strokeWidth":0.8,"fill":{"gradient":"linear","x1":0,"y1":0,"x2":0.2,"y2":1,"stops":[{"offset":0,"color":"#4d4d4d"},{"offset":0.03,"color":"#4d4d4d"},{"offset":0.03,"color":"#f4f4f4"},{"offset":0.0833,"color":"#f4f4f4"},{"offset":0.0833,"color":"#4d4d4d"},{"offset":0.1133,"color":"#4d4d4d"},{"offset":0.1133,"color":"#f4f4f4"},{"offset":0.1667,"color":"#f4f4f4"},{"offset":0.1667,"color":"#4d4d4d"},{"offset":0.1967,"color":"#4d4d4d"},{"offset":0.1967,"color":"#f4f4f4"},{"offset":0.25,"color":"#f4f4f4"},{"offset":0.25,"color":"#4d4d4d"},{"offset":0.28,"color":"#4d4d4d"},{"offset":0.28,"color":"#f4f4f4"},{"offset":0.3333,"color":"#f4f4f4"},{"offset":0.3333,"color":"#4d4d4d"},{"offset":0.3633,"color":"#4d4d4d"},{"offset":0.3633,"color":"#f4f4f4"},{"offset":0.4167,"color":"#f4f4f4"},{"offset":0.4167,"color":"#4d4d4d"},{"offset":0.4467,"color":"#4d4d4d"},{"offset":0.4467,"color":"#f4f4f4"},{"offset":0.5,"color":"#f4f4f4"},{"offset":0.5,"color":"#4d4d4d"},{"offset":0.53,"color":"#4d4d4d"},{"offset":0.53,"color":"#f4f4f4"},{"offset":0.5833,"color":"#f4f4f4"},{"offset":0.5833,"color":"#4d4d4d"},{"offset":0.6133,"color":"#4d4d4d"},{"offset":0.6133,"color":"#f4f4f4"},{"offset":0.6667,"color":"#f4f4f4"},{"offset":0.6667,"color":"#4d4d4d"},{"offset":0.6967,"color":"#4d4d4d"},{"offset":0.6967,"color":"#f4f4f4"},{"offset":0.75,"color":"#f4f4f4"},{"offset":0.75,"color":"#4d4d4d"},{"offset":0.78,"color":"#4d4d4d"},{"offset":0.78,"color":"#f4f4f4"},{"offset":0.8333,"color":"#f4f4f4"},{"offset":0.8333,"color":"#4d4d4d"},{"offset":0.8633,"color":"#4d4d4d"},{"offset":0.8633,"color":"#f4f4f4"},{"offset":0.9167,"color":"#f4f4f4"},{"offset":0.9167,"color":"#4d4d4d"},{"offset":0.9467,"color":"#4d4d4d"},{"offset":0.9467,"color":"#f4f4f4"},{"offset":1,"color":"#f4f4f4"}]}},"encoding":{"x":{"field":"q","type":"nominal"},"xOffset":{"field":"s","type":"nominal"},"y":{"field":"v","type":"quantitative"}}},
{"transform":[{"filter":"isValid(datum.t)"}],"mark":{"type":"text","style":"ptitle"},"encoding":{"x":{"datum":"Q2","bandPosition":1.1},"y":{"datum":0.95},"text":{"field":"t"}}},
{"transform":[{"filter":"isValid(datum.k)"}],"mark":{"type":"text","style":"kappa"},"encoding":{"x":{"datum":"Q3","bandPosition":0.36},"y":{"datum":0.75},"text":{"field":"k"}}}
]}
],"spacing":11}
],
"spacing":10,
"config":{
"view":{"stroke":null},
"scale":{"bandPaddingInner":0.25,"bandPaddingOuter":0.125,"offsetBandPaddingInner":0,"offsetBandPaddingOuter":0},
"axis":{"gridColor":"#d0d0d0","gridWidth":1,"labelFont":"Liberation Sans","labelFontSize":13,"labelColor":"#222222","titleFont":"DejaVu Sans","titleColor":"#111111","titleFontWeight":"bold"},
"axisX":{"labelAngle":0,"tickBand":"extent","domainColor":"#b0b0b0","tickColor":"#b0b0b0","tickSize":4,"labelPadding":9,"titlePadding":7,"titleFontSize":13,"grid":false},
"axisY":{"titleFontSize":11,"titlePadding":2,"ticks":false,"domain":false,"labelPadding":8,"grid":true,"tickCount":10,"labelOverlap":false},
"style":{
"ptitle":{"font":"DejaVu Sans","fontWeight":"bold","fontSize":11,"baseline":"middle","align":"center","fill":"#111111"},
"kappa":{"font":"Liberation Sans","fontSize":15,"baseline":"middle","align":"center","fill":"#111111"}
}
}
}
